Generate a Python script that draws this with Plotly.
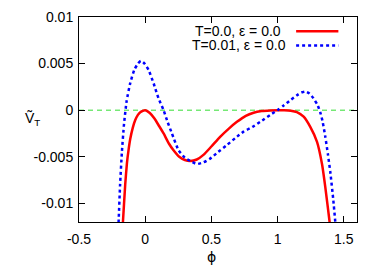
import plotly.graph_objects as go

# --- data ---
phi_red = [-0.175, -0.169, -0.151, -0.138, -0.125, -0.113, -0.094, -0.075, -0.055, -0.037,
           0.0, 0.035, 0.07, 0.105, 0.139, 0.18, 0.214, 0.257, 0.30, 0.34, 0.39, 0.44,
           0.50, 0.566, 0.63, 0.693, 0.76, 0.819, 0.88, 0.945, 1.0, 1.05, 1.10, 1.146,
           1.197, 1.247, 1.298, 1.336, 1.36, 1.393, 1.40]
v_red = [-0.0135, -0.0122, -0.0080, -0.0057, -0.0042, -0.0031, -0.0019, -0.00106, -0.0005, -0.00022,
         0.0, -0.0003, -0.0009, -0.0017, -0.0025, -0.0036, -0.0043, -0.0050, -0.00535, -0.00545, -0.00529, -0.0048,
         -0.0039, -0.00286, -0.0020, -0.00125, -0.0006, -0.00027, -0.0001, -0.00003, 0.0, 0.0, -0.00005, -0.0002,
         -0.0007, -0.0018, -0.0034, -0.0058, -0.0082, -0.0120, -0.0130]

phi_blue = [-0.207, -0.200, -0.190, -0.176, -0.160, -0.140, -0.113, -0.083, -0.055,
            -0.033, -0.005, 0.026, 0.064, 0.10, 0.139, 0.17, 0.202, 0.252, 0.30, 0.34, 0.39, 0.44,
            0.491, 0.55, 0.617, 0.68, 0.743, 0.81, 0.869, 0.945, 1.0, 1.046, 1.10, 1.146, 1.18,
            1.209, 1.24, 1.272, 1.30, 1.322, 1.34, 1.36, 1.38, 1.398, 1.42, 1.436, 1.442]
v_blue = [-0.0140, -0.0117, -0.0081, -0.0045, -0.0015, 0.0010, 0.0029, 0.0043, 0.0050,
          0.0053, 0.0050, 0.0043, 0.00286, 0.0013, 0.0, -0.0013, -0.0025, -0.0043, -0.0051, -0.00545, -0.00578, -0.0056,
          -0.0052, -0.0045, -0.00375, -0.0030, -0.0023, -0.0018, -0.00125, -0.0005, 0.0, 0.0005, 0.0011, 0.0016, 0.0019,
          0.0020, 0.0018, 0.00126, 0.0006, -0.0002, -0.0012, -0.0028, -0.0047, -0.0066, -0.0095, -0.0120, -0.0130]

series_names = ["T=0.0, ε = 0.0", "T=0.01, ε = 0.0"]
x_title = "ϕ"
y_title = "Ṽ<sub>T</sub>"

x_range = [-0.5, 1.6]
y_range = [-0.012, 0.01]
x_tickvals = [-0.5, 0, 0.5, 1, 1.5]
x_ticktext = ["-0.5", "0", "0.5", "1", "1.5"]
y_tickvals = [0.01, 0.005, 0, -0.005, -0.01]
y_ticktext = ["0.01", "0.005", "0", "-0.005", "-0.01"]

FONT = "Liberation Sans, Arial, sans-serif"
RED = "#ff0000"
BLUE = "#0000ff"
GREEN = "#33dd33"

fig = go.Figure()

# zero reference line
fig.add_trace(go.Scatter(x=x_range, y=[0, 0], mode="lines",
                         line=dict(color=GREEN, width=1, dash="5px,4px"),
                         showlegend=False, hoverinfo="skip"))

fig.add_trace(go.Scatter(x=phi_red, y=v_red, mode="lines", name=series_names[0],
                         line=dict(color=RED, width=2.5, shape="spline", smoothing=0.5),
                         showlegend=False))
fig.add_trace(go.Scatter(x=phi_blue, y=v_blue, mode="lines", name=series_names[1],
                         line=dict(color=BLUE, width=2.5, shape="spline", smoothing=0.5, dash="3px,3px"),
                         showlegend=False))

axis_common = dict(showline=True, linecolor="black", linewidth=1, mirror="allticks",
                   ticks="inside", ticklen=6, tickwidth=1, tickcolor="black",
                   showgrid=False, zeroline=False, automargin=False,
                   tickfont=dict(family=FONT, size=14, color="black"))

fig.update_xaxes(range=x_range, tickmode="array", tickvals=x_tickvals, ticktext=x_ticktext,
                 ticklabelstandoff=4, **axis_common)
fig.update_yaxes(range=y_range, tickmode="array", tickvals=y_tickvals, ticktext=y_ticktext,
                 ticklabelstandoff=2, **axis_common)

# manual gnuplot-style legend (text right-aligned, sample to the right)
legend_rows_y = [0.931, 0.861]
legend_text_x = [0.734, 0.752]
styles = [dict(color=RED, width=2.5), dict(color=BLUE, width=2.5, dash="3px,3px")]
for name, yy, xx, st in zip(series_names, legend_rows_y, legend_text_x, styles):
    fig.add_annotation(text=name, xref="paper", yref="paper", x=xx, y=yy,
                       xanchor="right", yanchor="middle", showarrow=False,
                       font=dict(family=FONT, size=14, color="black"))
    fig.add_shape(type="line", xref="paper", yref="paper", x0=0.781, x1=0.933, y0=yy, y1=yy,
                  line=st)

# axis labels
fig.add_annotation(text=x_title, xref="paper", yref="paper", x=0.478, y=-0.171,
                   xanchor="center", yanchor="middle", showarrow=False,
                   font=dict(family="DejaVu Sans", size=14, color="black"))
fig.add_annotation(text=y_title, xref="paper", yref="paper", x=-0.169, y=0.502,
                   xanchor="center", yanchor="middle", showarrow=False,
                   font=dict(family=FONT, size=14, color="black"))

# page body has an 8px margin, so the figure is sized to fit the 382x267 window
fig.update_layout(template="none", width=374, height=259,
                  margin=dict(l=71, r=25, t=9, b=45, autoexpand=False),
                  paper_bgcolor="white", plot_bgcolor="white",
                  font=dict(family=FONT, size=14, color="black"))

fig.write_html("out.html")
